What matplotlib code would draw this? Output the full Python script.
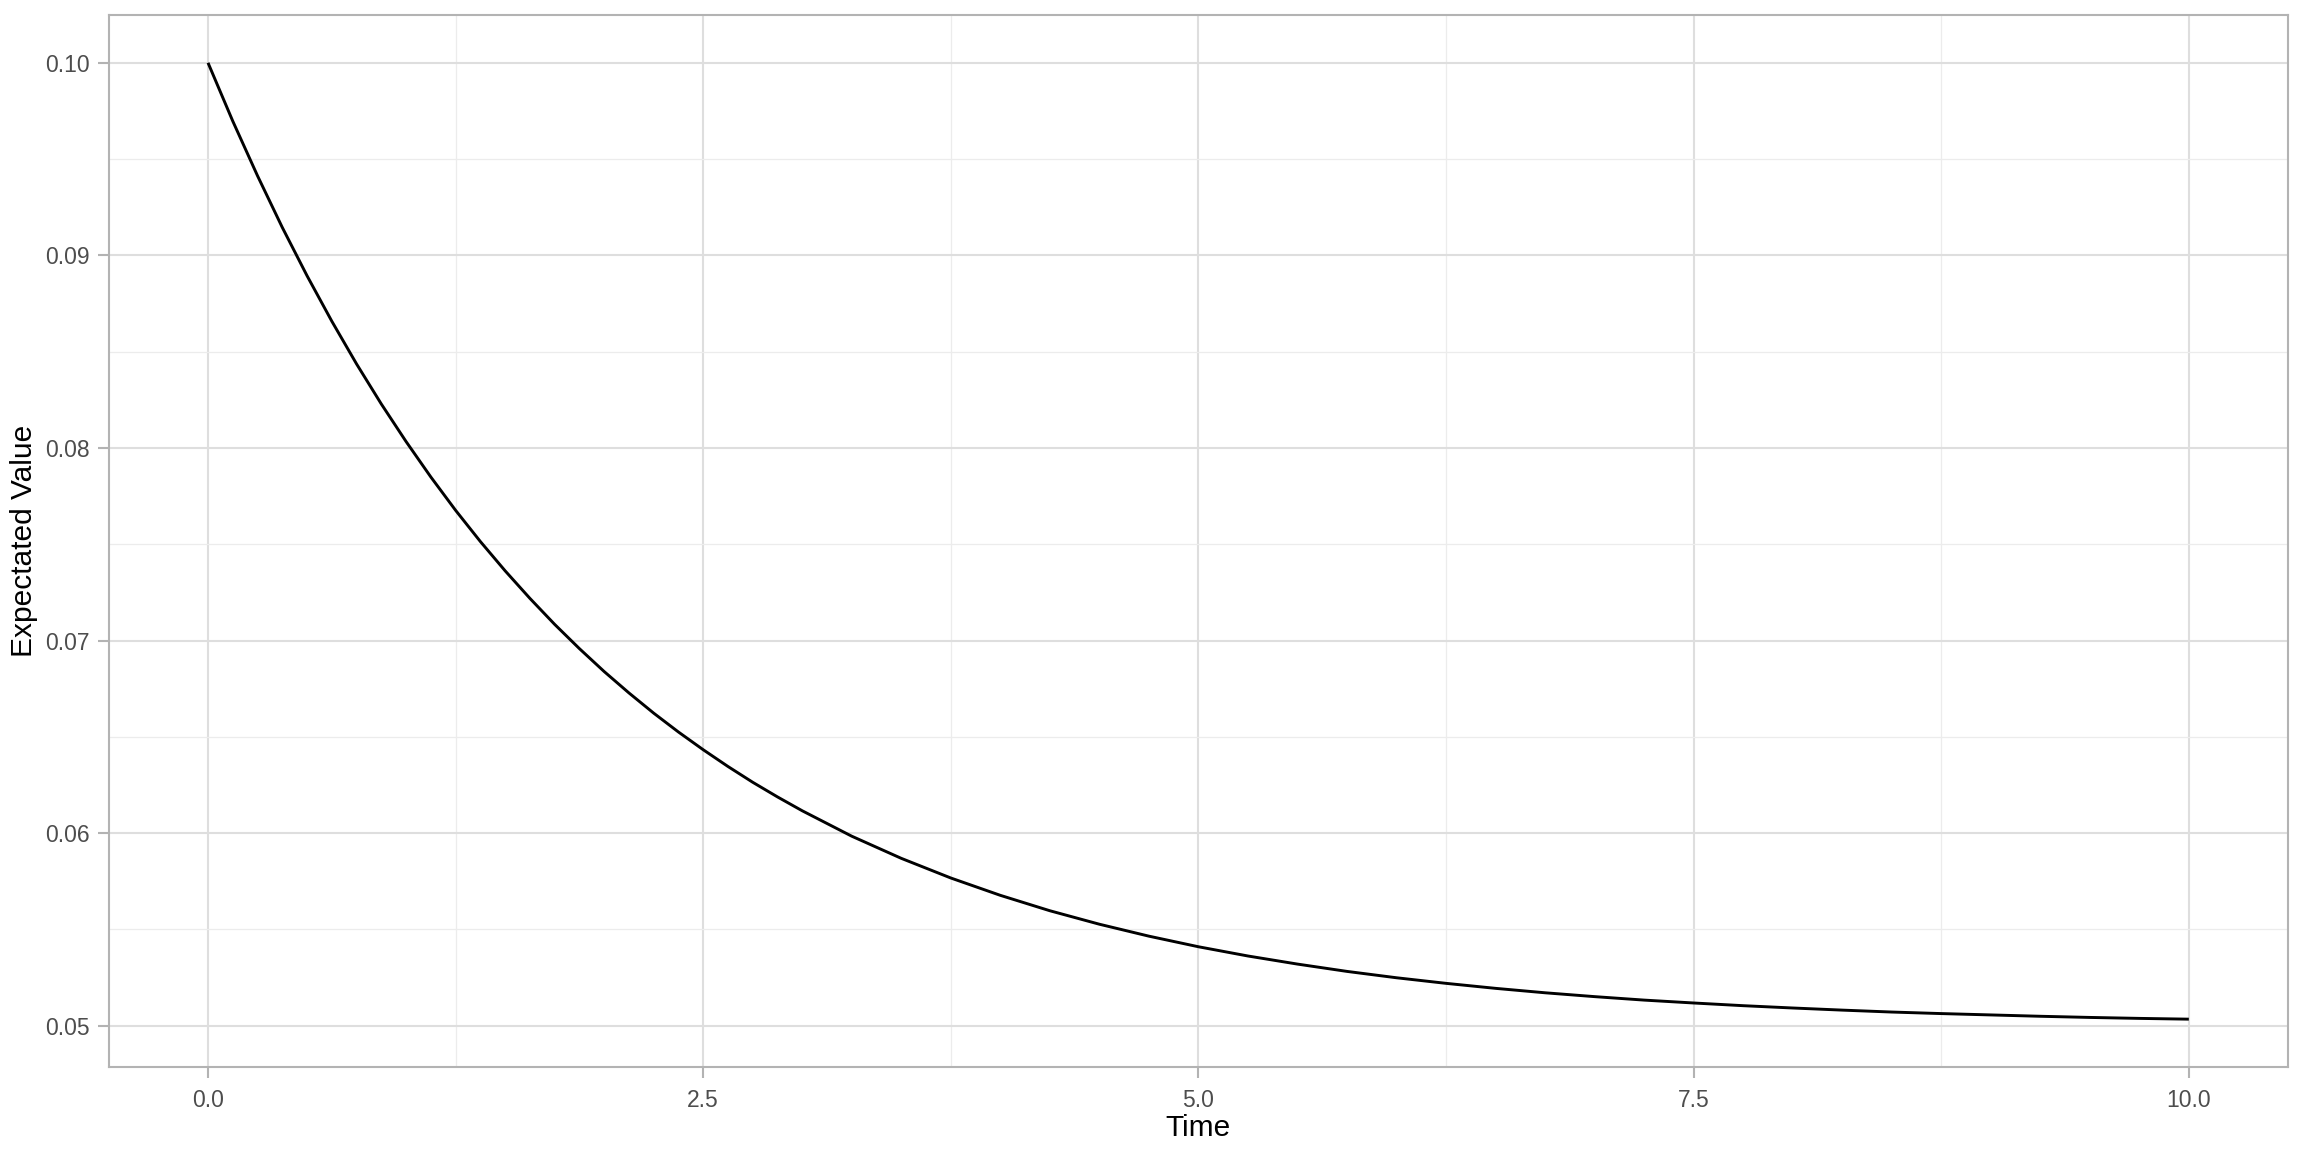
import matplotlib
matplotlib.use("Agg")
import matplotlib.pyplot as plt
from matplotlib.ticker import MultipleLocator

plt.rcParams['font.family'] = ['Liberation Sans', 'DejaVu Sans']

# values
time = [0.0, 0.125, 0.25, 0.375, 0.5, 0.625, 0.75, 0.875, 1.0, 1.125, 1.25,
        1.375, 1.5, 1.625, 1.75, 1.875, 2.0, 2.125, 2.25, 2.375, 2.5, 2.625,
        2.75, 2.875, 3.0, 3.25, 3.5, 3.75, 4.0, 4.25, 4.5, 4.75, 5.0, 5.25,
        5.5, 5.75, 6.0, 6.25, 6.5, 6.75, 7.0, 7.25, 7.5, 7.75, 8.0, 8.25,
        8.5, 8.75, 9.0, 9.25, 9.5, 9.75, 10.0]
expected = [0.1000, 0.09697, 0.09413, 0.09145, 0.08894, 0.08658, 0.08436,
            0.08228, 0.08033, 0.07849, 0.07676, 0.07514, 0.07362, 0.07219,
            0.07084, 0.06958, 0.06839, 0.06728, 0.06623, 0.06525, 0.06433,
            0.06346, 0.06264, 0.06188, 0.06116, 0.05984, 0.05869, 0.05767,
            0.05677, 0.05597, 0.05527, 0.05465, 0.05410, 0.05362, 0.05320,
            0.05282, 0.05249, 0.05220, 0.05194, 0.05171, 0.05151, 0.05133,
            0.05118, 0.05104, 0.05092, 0.05081, 0.05071, 0.05063, 0.05056,
            0.05049, 0.05043, 0.05038, 0.05034]

x_ticks = [0.0, 2.5, 5.0, 7.5, 10.0]
y_ticks = [0.05, 0.06, 0.07, 0.08, 0.09, 0.10]

fig = plt.figure(figsize=(23.04, 11.52), dpi=100)
ax = fig.add_axes([0.0473, 0.0738, 0.9457, 0.9132])

ax.plot(time, expected, color="black", linewidth=2.1, solid_capstyle="butt",
        solid_joinstyle="round")

# -----------------------------------------------------------------------------
# axes, ticks and grid in a light ggplot-like style
# -----------------------------------------------------------------------------
span_x = max(time) - min(time)
span_y = max(expected) - min(expected)
ax.set_xlim(min(time) - 0.05 * span_x, max(time) + 0.05 * span_x)
ax.set_ylim(min(expected) - 0.05 * span_y, max(expected) + 0.05 * span_y)

ax.set_xticks(x_ticks)
ax.set_xticklabels([f"{t:.1f}" for t in x_ticks])
ax.set_yticks(y_ticks)
ax.set_yticklabels([f"{v:.2f}" for v in y_ticks])
ax.xaxis.set_minor_locator(MultipleLocator(1.25))
ax.yaxis.set_minor_locator(MultipleLocator(0.005))

ax.grid(which="major", color="#dedede", linewidth=1.5)
ax.grid(which="minor", color="#ececec", linewidth=0.9)
ax.set_axisbelow(True)

for spine in ax.spines.values():
    spine.set_color("#b3b3b3")
    spine.set_linewidth(1.5)

ax.tick_params(which="major", length=8, width=1.5, color="#b3b3b3",
               labelsize=16.5, labelcolor="#4d4d4d", pad=6)
ax.tick_params(axis="x", which="major", pad=7.5)
ax.tick_params(which="minor", length=0)

ax.set_xlabel("Time", fontsize=21.5, labelpad=1.5)
ax.set_ylabel("Expectated Value", fontsize=21.5, labelpad=5)

fig.savefig("out.png", dpi=100, facecolor="white")
